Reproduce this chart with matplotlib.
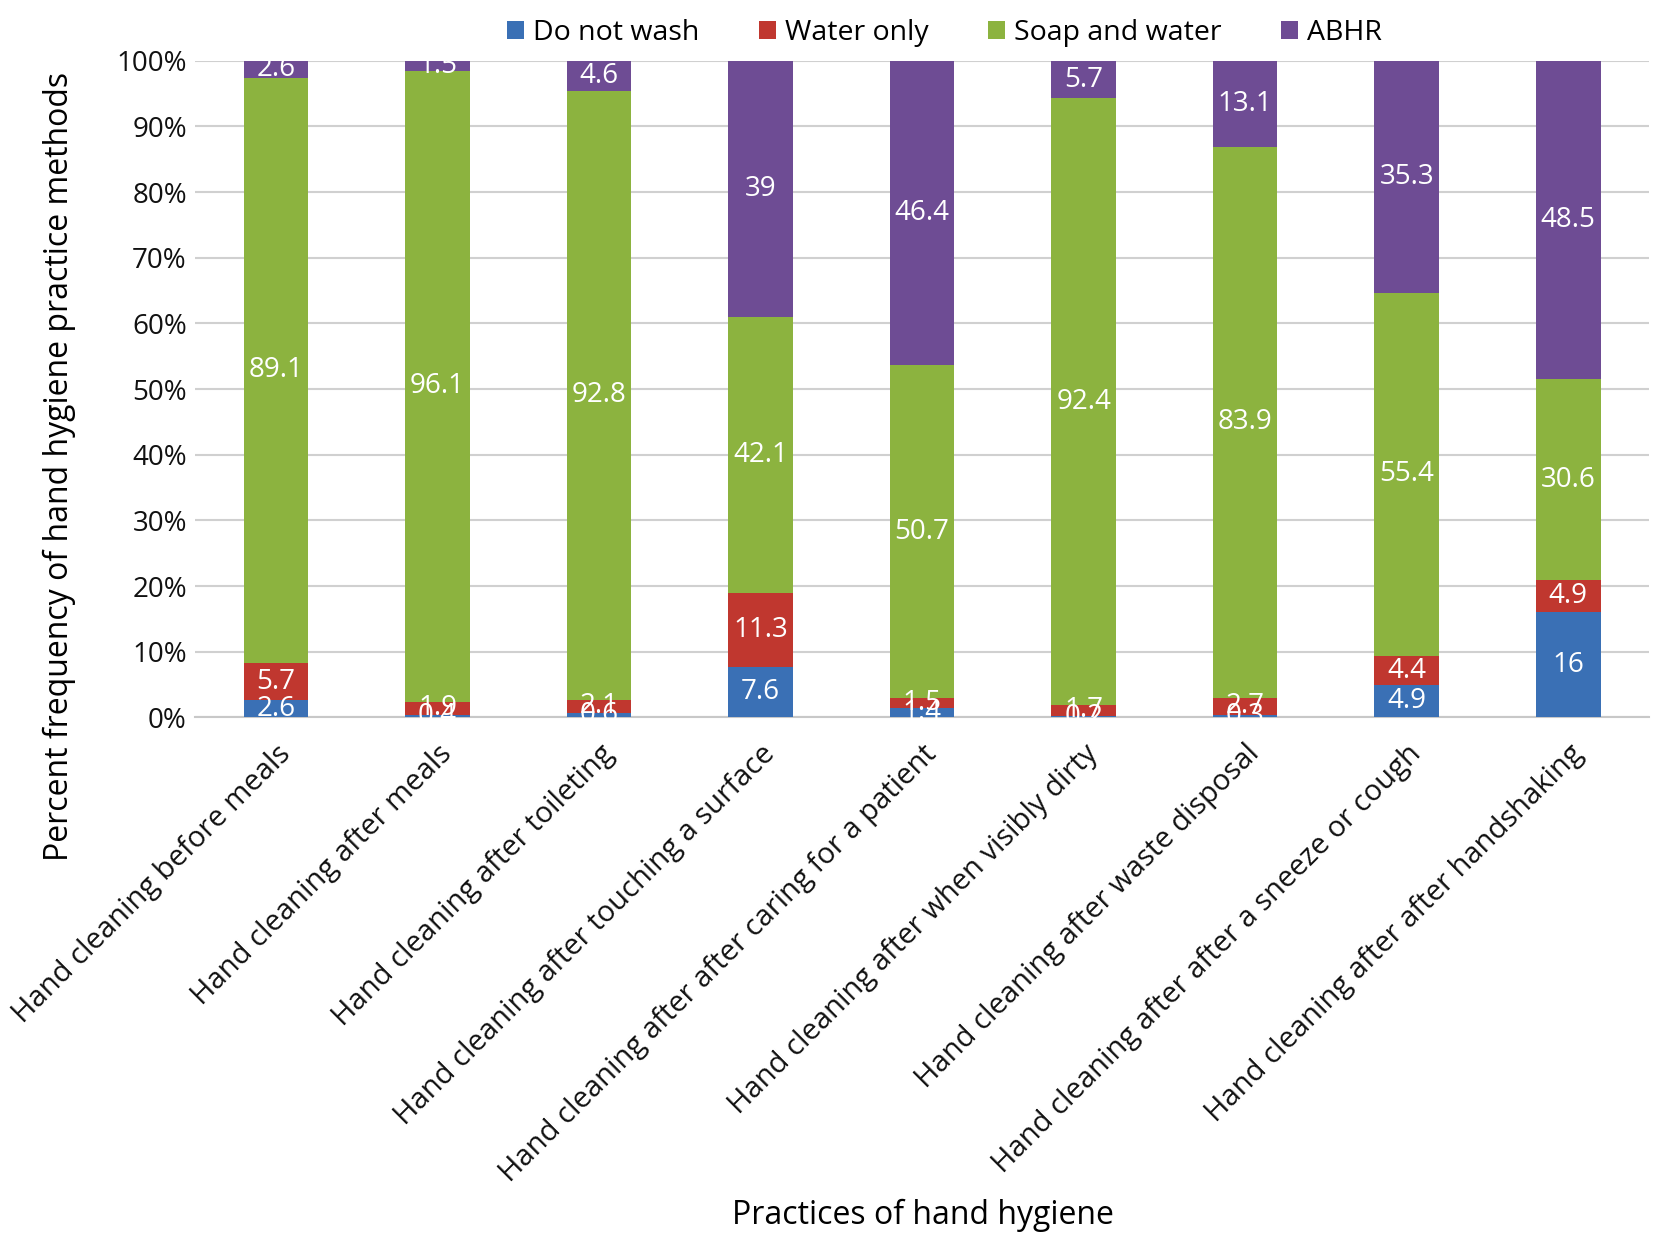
import numpy as np
import matplotlib
matplotlib.use('Agg')
import matplotlib.pyplot as plt

plt.rcParams['font.family'] = ['Open Sans', 'DejaVu Sans']

# data (percent)
practices = ['Hand cleaning before meals',
             'Hand cleaning after meals',
             'Hand cleaning after toileting',
             'Hand cleaning after touching a surface',
             'Hand cleaning after after caring for a patient',
             'Hand cleaning after when visibly dirty',
             'Hand cleaning after waste disposal',
             'Hand cleaning after after a sneeze or cough',
             'Hand cleaning after after handshaking']
do_not_wash = [2.6, 0.4, 0.6, 7.6, 1.4, 0.2, 0.3, 4.9, 16]
water_only = [5.7, 1.9, 2.1, 11.3, 1.5, 1.7, 2.7, 4.4, 4.9]
soap_water = [89.1, 96.1, 92.8, 42.1, 50.7, 92.4, 83.9, 55.4, 30.6]
abhr = [2.6, 1.5, 4.6, 39, 46.4, 5.7, 13.1, 35.3, 48.5]

series = [('Do not wash', do_not_wash, '#3A70B5'),
          ('Water only', water_only, '#C0372F'),
          ('Soap and water', soap_water, '#8CB33F'),
          ('ABHR', abhr, '#6E4C94')]

vals = np.array([s[1] for s in series], dtype=float)
tot = vals.sum(axis=0)
frac = vals / tot  # 100% stacked

fig = plt.figure(figsize=(16.54, 12.41), dpi=100)
ax = fig.add_axes([0.118, 0.422, 0.879, 0.529])

x = np.arange(len(practices))
bottom = np.zeros(len(practices))
for i, (name, v, c) in enumerate(series):
    ax.bar(x, frac[i], 0.4, bottom=bottom, color=c, label=name, zorder=3)
    for j in range(len(x)):
        ax.text(x[j], bottom[j] + frac[i][j] / 2, '%g' % v[j],
                ha='center', va='center', color='white', fontsize=20, zorder=4)
    bottom += frac[i]

ax.set_xlim(-0.5, 8.5)
ax.set_ylim(0, 1)
ticks = np.arange(0, 1.01, 0.1)
ax.set_yticks(ticks)
ax.set_yticklabels(['%d%%' % round(t * 100) for t in ticks], fontsize=20)
ax.yaxis.grid(True, color='#D0D0D0', linewidth=1.5, zorder=0)
ax.set_xticks(x)
ax.set_xticklabels(practices, rotation=45, ha='right', rotation_mode='anchor', fontsize=21)
ax.tick_params(length=0, colors='#111111')
ax.tick_params(axis='x', pad=16)
ax.tick_params(axis='y', pad=6)
for s in ['top', 'right', 'left']:
    ax.spines[s].set_visible(False)
ax.spines['bottom'].set_color('#C8C8C8')
ax.spines['bottom'].set_linewidth(1.5)

# axis titles
fig.text(0.036, 0.624, 'Percent frequency of hand hygiene practice methods',
         rotation=90, ha='center', va='center', fontsize=23)
fig.text(0.558, 0.021, 'Practices of hand hygiene', ha='center', va='center', fontsize=23)

fig.legend(loc='upper center', bbox_to_anchor=(0.571, 1.005), ncol=4, frameon=False,
           fontsize=20.5, handlelength=0.6, handleheight=0.6, handletextpad=0.3,
           columnspacing=2.1)

fig.savefig('out.png', dpi=100)
